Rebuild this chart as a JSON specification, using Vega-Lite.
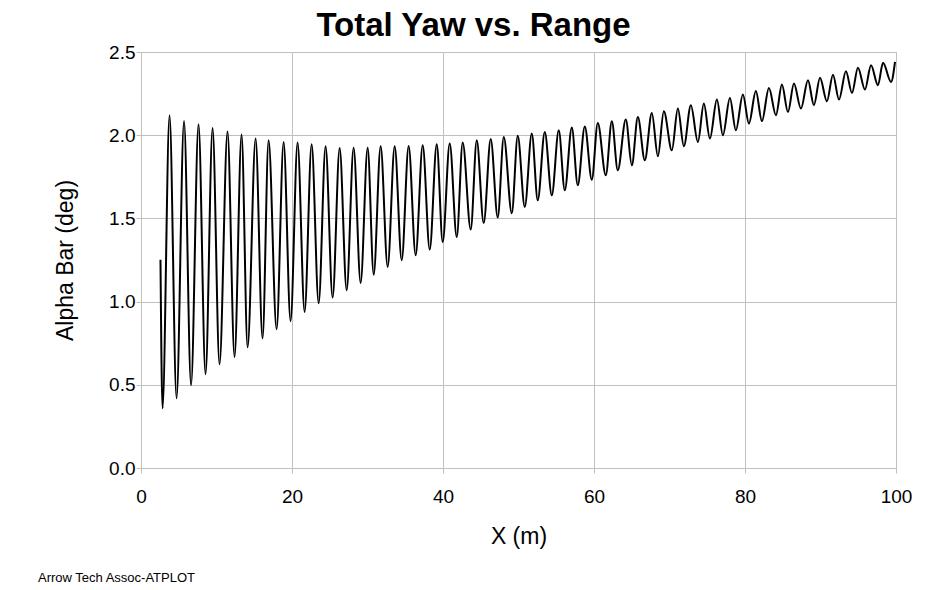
{
  "$schema": "https://vega.github.io/schema/vega-lite/v6.json",
  "width": 755,
  "height": 416,
  "autosize": {"type": "none"},
  "padding": {"left": 141, "top": 52, "right": 32, "bottom": 122},
  "background": "white",
  "title": {
    "text": "Arrow Tech Assoc-ATPLOT",
    "orient": "bottom",
    "anchor": "start",
    "frame": "group",
    "dx": -103,
    "offset": 24,
    "font": "Liberation Sans",
    "fontSize": 13,
    "fontWeight": "normal",
    "color": "#000000"
  },
  "config": {
    "view": {"stroke": "#C0C0C0"},
    "axis": {
      "labelFont": "Liberation Sans",
      "titleFont": "Liberation Sans",
      "labelColor": "#000000",
      "titleColor": "#000000",
      "gridColor": "#C0C0C0",
      "gridOpacity": 1,
      "domainColor": "#C0C0C0",
      "tickColor": "#C0C0C0",
      "tickSize": 5
    }
  },
  "resolve": {"axis": {"x": "independent"}},
  "data": {
    "values": [
      {"x": 2.58, "alpha": 1.252},
      {"x": 2.85, "alpha": 0.359},
      {"x": 3.78, "alpha": 2.120},
      {"x": 4.71, "alpha": 0.419},
      {"x": 5.70, "alpha": 2.085},
      {"x": 6.63, "alpha": 0.497},
      {"x": 7.62, "alpha": 2.066},
      {"x": 8.55, "alpha": 0.563},
      {"x": 9.48, "alpha": 2.043},
      {"x": 10.40, "alpha": 0.623},
      {"x": 11.46, "alpha": 2.022},
      {"x": 12.39, "alpha": 0.667},
      {"x": 13.32, "alpha": 2.004},
      {"x": 14.12, "alpha": 0.725},
      {"x": 15.18, "alpha": 1.980},
      {"x": 16.10, "alpha": 0.779},
      {"x": 16.90, "alpha": 1.969},
      {"x": 17.96, "alpha": 0.834},
      {"x": 18.89, "alpha": 1.959},
      {"x": 19.81, "alpha": 0.882},
      {"x": 20.74, "alpha": 1.956},
      {"x": 21.67, "alpha": 0.938},
      {"x": 22.60, "alpha": 1.945},
      {"x": 23.53, "alpha": 0.990},
      {"x": 24.45, "alpha": 1.933},
      {"x": 25.38, "alpha": 1.024},
      {"x": 26.31, "alpha": 1.923},
      {"x": 27.24, "alpha": 1.068},
      {"x": 28.16, "alpha": 1.925},
      {"x": 29.09, "alpha": 1.112},
      {"x": 30.02, "alpha": 1.925},
      {"x": 30.82, "alpha": 1.162},
      {"x": 31.74, "alpha": 1.933},
      {"x": 32.67, "alpha": 1.208},
      {"x": 33.60, "alpha": 1.933},
      {"x": 34.53, "alpha": 1.248},
      {"x": 35.45, "alpha": 1.935},
      {"x": 36.38, "alpha": 1.278},
      {"x": 37.31, "alpha": 1.939},
      {"x": 38.24, "alpha": 1.313},
      {"x": 39.17, "alpha": 1.945},
      {"x": 39.96, "alpha": 1.358},
      {"x": 40.89, "alpha": 1.950},
      {"x": 41.82, "alpha": 1.388},
      {"x": 42.61, "alpha": 1.956},
      {"x": 43.67, "alpha": 1.433},
      {"x": 44.47, "alpha": 1.969},
      {"x": 45.39, "alpha": 1.472},
      {"x": 46.32, "alpha": 1.977},
      {"x": 47.25, "alpha": 1.505},
      {"x": 48.05, "alpha": 1.989},
      {"x": 49.11, "alpha": 1.531},
      {"x": 49.90, "alpha": 1.996},
      {"x": 50.83, "alpha": 1.569},
      {"x": 51.76, "alpha": 2.010},
      {"x": 52.55, "alpha": 1.609},
      {"x": 53.48, "alpha": 2.019},
      {"x": 54.41, "alpha": 1.639},
      {"x": 55.33, "alpha": 2.029},
      {"x": 56.13, "alpha": 1.669},
      {"x": 57.06, "alpha": 2.046},
      {"x": 57.85, "alpha": 1.699},
      {"x": 58.78, "alpha": 2.053},
      {"x": 59.71, "alpha": 1.733},
      {"x": 60.50, "alpha": 2.073},
      {"x": 61.56, "alpha": 1.759},
      {"x": 62.36, "alpha": 2.084},
      {"x": 63.15, "alpha": 1.789},
      {"x": 64.21, "alpha": 2.094},
      {"x": 65.01, "alpha": 1.819},
      {"x": 65.81, "alpha": 2.109},
      {"x": 66.73, "alpha": 1.849},
      {"x": 67.66, "alpha": 2.133},
      {"x": 68.46, "alpha": 1.873},
      {"x": 69.25, "alpha": 2.144},
      {"x": 70.31, "alpha": 1.909},
      {"x": 71.11, "alpha": 2.160},
      {"x": 71.90, "alpha": 1.933},
      {"x": 72.83, "alpha": 2.180},
      {"x": 73.76, "alpha": 1.959},
      {"x": 74.55, "alpha": 2.190},
      {"x": 75.35, "alpha": 1.980},
      {"x": 76.28, "alpha": 2.214},
      {"x": 77.07, "alpha": 1.999},
      {"x": 78.00, "alpha": 2.224},
      {"x": 78.79, "alpha": 2.029},
      {"x": 79.72, "alpha": 2.244},
      {"x": 80.52, "alpha": 2.070},
      {"x": 81.44, "alpha": 2.266},
      {"x": 82.24, "alpha": 2.085},
      {"x": 83.17, "alpha": 2.284},
      {"x": 84.10, "alpha": 2.120},
      {"x": 84.89, "alpha": 2.304},
      {"x": 85.69, "alpha": 2.139},
      {"x": 86.48, "alpha": 2.310},
      {"x": 87.41, "alpha": 2.160},
      {"x": 88.34, "alpha": 2.330},
      {"x": 89.13, "alpha": 2.180},
      {"x": 89.93, "alpha": 2.346},
      {"x": 90.85, "alpha": 2.204},
      {"x": 91.65, "alpha": 2.364},
      {"x": 92.45, "alpha": 2.214},
      {"x": 93.37, "alpha": 2.384},
      {"x": 94.17, "alpha": 2.254},
      {"x": 94.96, "alpha": 2.406},
      {"x": 95.89, "alpha": 2.274},
      {"x": 96.69, "alpha": 2.420},
      {"x": 97.61, "alpha": 2.300},
      {"x": 98.28, "alpha": 2.436},
      {"x": 99.34, "alpha": 2.320},
      {"x": 99.87, "alpha": 2.440}
    ]
  },
  "layer": [
    {
      "mark": {"type": "line", "color": "#000000", "strokeWidth": 2, "interpolate": "monotone"},
      "encoding": {
        "x": {
          "field": "x",
          "type": "quantitative",
          "scale": {"domain": [0, 100], "nice": false, "zero": false},
          "axis": {
            "orient": "bottom",
            "title": "X (m)",
            "values": [0, 20, 40, 60, 80, 100],
            "labelFlush": false,
            "labelFontSize": 19,
            "labelPadding": 14,
            "titleFontSize": 23,
            "titleFontWeight": "normal",
            "titlePadding": 19
          }
        },
        "y": {
          "field": "alpha",
          "type": "quantitative",
          "scale": {"domain": [0, 2.5], "nice": false, "zero": false},
          "axis": {
            "title": "Alpha Bar (deg)",
            "values": [0, 0.5, 1, 1.5, 2, 2.5],
            "format": ".1f",
            "labelFontSize": 19,
            "labelPadding": 1,
            "titleFontSize": 23,
            "titleFontWeight": "normal",
            "titlePadding": 31
          }
        }
      }
    },
    {
      "mark": {"type": "line", "opacity": 0, "interpolate": "monotone"},
      "encoding": {
        "x": {
          "field": "x",
          "type": "quantitative",
          "scale": {"domain": [0, 100], "nice": false, "zero": false},
          "axis": {
            "orient": "top",
            "title": "Total Yaw vs. Range",
            "titleFont": "Liberation Sans",
            "titleFontSize": 33,
            "titleFontWeight": "bold",
            "titleX": 332,
            "titleAlign": "center",
            "titlePadding": 10,
            "labels": false,
            "ticks": false,
            "domain": false,
            "grid": false
          }
        },
        "y": {
          "field": "alpha",
          "type": "quantitative",
          "scale": {"domain": [0, 2.5], "nice": false, "zero": false}
        }
      }
    }
  ]
}
